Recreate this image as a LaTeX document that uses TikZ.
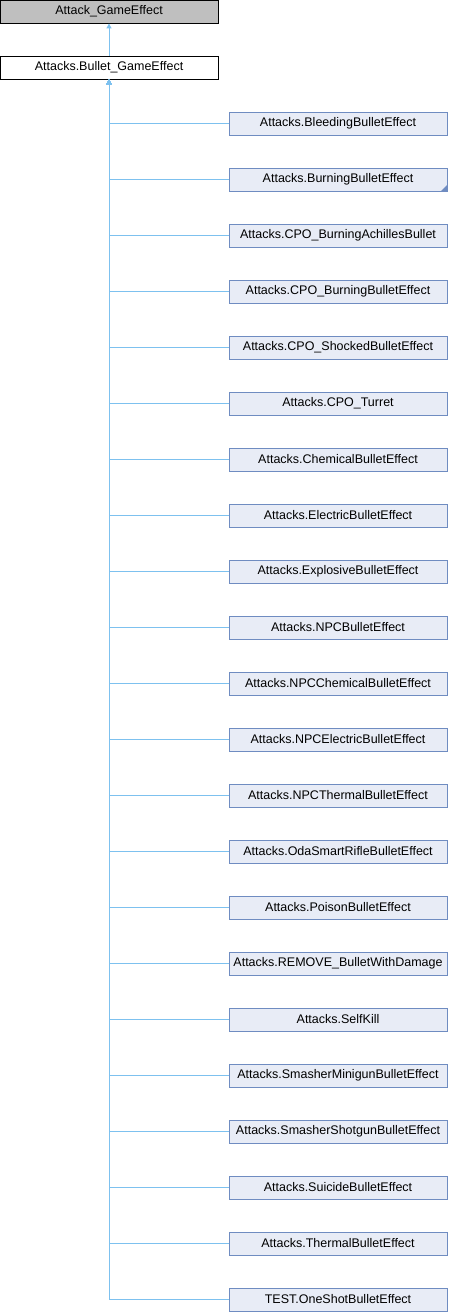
\documentclass[tikz,border=0pt]{standalone}
\usepackage{fontspec}
\setmainfont{Liberation Sans}
\usepackage{xcolor}
\usetikzlibrary{arrows.meta,positioning,calc}

\definecolor{edgeblue}{HTML}{7DC1EF}
\definecolor{boxline}{HTML}{6F8CC1}
\definecolor{boxfill}{HTML}{E8ECF6}
\definecolor{topfill}{HTML}{BFBFBF}

\begin{document}
\begin{tikzpicture}[x=1pt,y=-1pt,
		classbox/.style={draw=boxline, fill=boxfill, line width=0.9pt, minimum width=218pt, minimum height=23pt, inner sep=0pt, font=\fontsize{12.5}{14}\selectfont},
		basebox/.style={classbox, draw=black},
		edge/.style={draw=edgeblue, line width=1pt, -{Triangle[length=5pt,width=5pt]}}]
		\useasboundingbox (0,0) rectangle (448,1312);

		\node[basebox, fill=topfill] (attack) at (109,11.5) {Attack\_GameEffect};
		\node[basebox, fill=white] (bullet) at (109,67.5) {Attacks.Bullet\_GameEffect};
		\draw[edge] (bullet.north) -- (attack.south);

		\foreach \name [count=\i from 0] in {
			Attacks.BleedingBulletEffect,
			Attacks.BurningBulletEffect,
			Attacks.CPO\_BurningAchillesBullet,
			Attacks.CPO\_BurningBulletEffect,
			Attacks.CPO\_ShockedBulletEffect,
			Attacks.CPO\_Turret,
			Attacks.ChemicalBulletEffect,
			Attacks.ElectricBulletEffect,
			Attacks.ExplosiveBulletEffect,
			Attacks.NPCBulletEffect,
			Attacks.NPCChemicalBulletEffect,
			Attacks.NPCElectricBulletEffect,
			Attacks.NPCThermalBulletEffect,
			Attacks.OdaSmartRifleBulletEffect,
			Attacks.PoisonBulletEffect,
			Attacks.REMOVE\_BulletWithDamage,
			Attacks.SelfKill,
			Attacks.SmasherMinigunBulletEffect,
			Attacks.SmasherShotgunBulletEffect,
			Attacks.SuicideBulletEffect,
			Attacks.ThermalBulletEffect,
			TEST.OneShotBulletEffect} {
			\node[classbox] (c\i) at (338,{123.5+56*\i}) {\name};
			\draw[edge] (c\i.west) -| (bullet.south);
		}

		% more subclasses marker
		\fill[boxline] ($(c1.south east)+(-0.4,-0.4)$) -- ++(0,-6) -- ++(-6,6) -- cycle;
	\end{tikzpicture}
\end{document}
